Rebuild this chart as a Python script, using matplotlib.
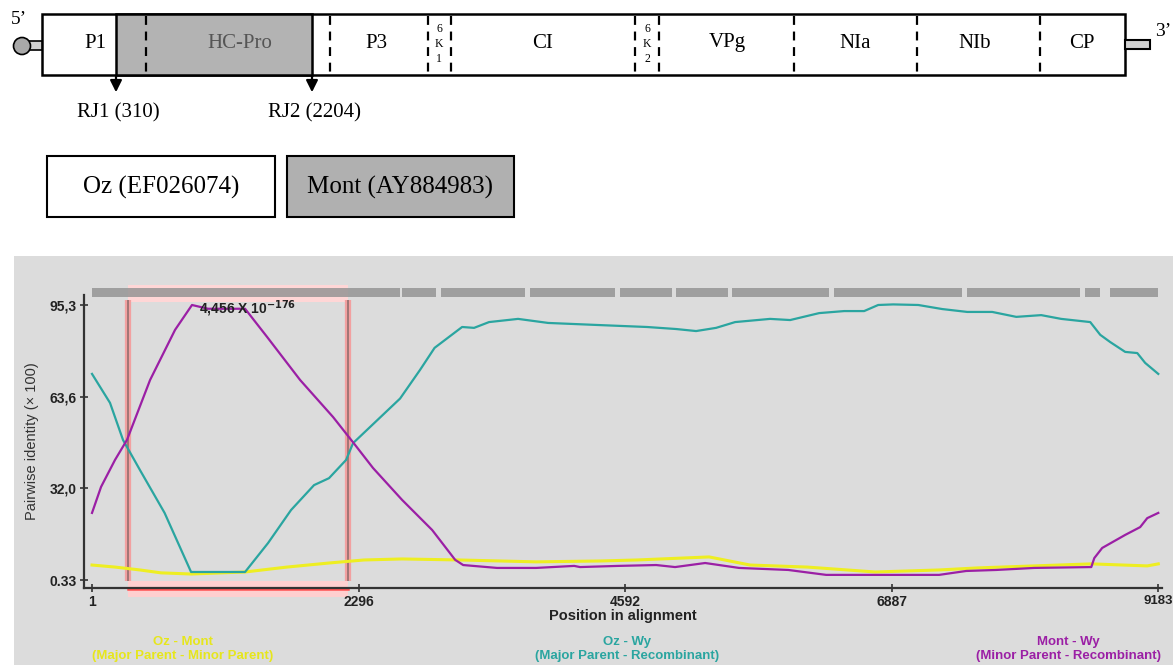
import matplotlib
matplotlib.use("Agg")
import matplotlib.pyplot as plt
from matplotlib.patches import Rectangle, Circle

# ---------------- data ----------------
# Oz - Mont (yellow)
oz_mont_x = [1, 199, 414, 595, 854, 1319, 1680, 2042, 2344, 2671, 3162, 3825, 4376,
             4695, 5315, 5668, 6159, 6745, 7296, 7624, 8115, 8606, 9088, 9183]
oz_mont_y = [5.5, 4.8, 3.8, 2.8, 2.4, 3.1, 4.8, 6.2, 7.25, 7.6, 7.25, 6.6, 6.9,
             7.25, 8.3, 5.5, 4.8, 3.1, 3.8, 4.5, 5.2, 5.9, 5.2, 5.9]
# Oz - Wy (teal)
oz_wy_x = [1, 156, 268, 414, 626, 854, 1319, 1517, 1715, 1913, 2042, 2189, 2249, 2654,
           2826, 2951, 3076, 3188, 3291, 3420, 3670, 3929, 4350, 4781, 5031, 5203,
           5375, 5539, 5840, 6013, 6263, 6478, 6650, 6771, 6900, 7116, 7322, 7538,
           7753, 7960, 8175, 8347, 8597, 8683, 8769, 8898, 9002, 9070, 9183]
oz_wy_y = [71.5, 61.5, 48.7, 38.3, 23.5, 3.1, 3.1, 13.1, 24.5, 33.1, 35.5, 41.8, 47.6,
           63.0, 72.9, 80.5, 84.3, 87.7, 87.4, 89.4, 90.5, 89.1, 88.4, 87.7, 87.0,
           86.3, 87.4, 89.4, 90.5, 90.1, 92.5, 93.2, 93.2, 95.3, 95.5, 95.3, 93.9,
           92.9, 92.9, 91.2, 91.8, 90.5, 89.4, 85.0, 82.5, 79.1, 78.7, 75.3, 71.5]
# Mont - Wy (purple)
mont_wy_x = [1, 79, 199, 302, 501, 716, 862, 1000, 1319, 1508, 1793, 2077, 2266, 2421,
             2671, 2930, 3128, 3197, 3489, 3825, 4153, 4204, 4531, 4859, 5022, 5281,
             5573, 5996, 6323, 6745, 7296, 7529, 7788, 8115, 8606, 8632, 8700, 8898,
             9027, 9088, 9183]
mont_wy_y = [23.5, 32.5, 41.8, 48.7, 69.4, 86.7, 95.3, 94.0, 94.0, 84.3, 69.4, 56.6,
             47.0, 39.0, 28.0, 17.6, 7.3, 5.5, 4.5, 4.5, 5.2, 4.8, 5.2, 5.5, 4.8, 6.2,
             4.5, 3.8, 2.1, 2.1, 2.1, 3.45, 3.8, 4.5, 4.8, 7.9, 11.4, 15.9, 18.6,
             21.7, 23.5]

x_ticks = [1, 2296, 4592, 6887, 9183]
y_ticks = [0.33, 32.0, 63.6, 95.3]
y_tick_labels = ["0.33", "32,0", "63,6", "95,3"]

breakpoints = [310, 2204]
pvalue_text = r"4,456 X 10$^{\mathbf{-176}}$"

# informative-site bar segments (alignment positions)
site_segments = [(1, 302), (302, 2204), (2204, 2654), (2671, 2964), (3007, 3732),
                 (3775, 4505), (4548, 4996), (5031, 5479), (5513, 6349), (6392, 7494),
                 (7537, 8511), (8554, 8683), (8769, 9183)]

gene_names = ["P1", "HC-Pro", "P3", "6\nK\n1", "CI", "6\nK\n2", "VPg", "NIa", "NIb", "CP"]

# ---------------- figure ----------------
W, H = 1173, 665
fig = plt.figure(figsize=(W / 100, H / 100), dpi=100)
fig.patch.set_facecolor("white")

bg = fig.add_axes([0, 0, 1, 1])
bg.set_xlim(0, W)
bg.set_ylim(H, 0)
bg.axis("off")

# grey panel
bg.add_patch(Rectangle((14, 256), W - 14, H - 256, facecolor="#dcdcdc", edgecolor="none"))

serif = ["Liberation Serif", "DejaVu Serif"]

# genome map
bar_l, bar_r, bar_t, bar_b = 42, 1125, 14, 75
bg.add_patch(Rectangle((bar_l, bar_t), bar_r - bar_l, bar_b - bar_t, facecolor="white",
                       edgecolor="black", lw=1.8, zorder=2))
bg.add_patch(Rectangle((116, bar_t), 312 - 116, bar_b - bar_t, facecolor="#b3b3b3",
                       edgecolor="black", lw=1.8, zorder=3))
for xd in [146, 330, 428, 451, 635, 659, 794, 917, 1040]:
    bg.plot([xd, xd], [bar_t + 2, bar_b - 2], color="black", lw=1.6,
            linestyle=(0, (4, 3)), zorder=4)
label_x = [95, 240, 376, 439, 543, 647, 727, 855, 975, 1082]
for name, lx in zip(gene_names, label_x):
    if "\n" in name:
        for k, ch in enumerate(name.split("\n")):
            bg.text(lx, 29 + k * 15, ch, ha="center", va="center", fontsize=8.5,
                    family=serif, zorder=5)
    else:
        col = "#555555" if name == "HC-Pro" else "black"
        bg.text(lx, 43, name, ha="center", va="center", fontsize=15, family=serif,
                color=col, zorder=5)

# 5' and 3' ends
bg.add_patch(Rectangle((28, 41), 14, 9, facecolor="#d0d0d0", edgecolor="black", lw=1.2, zorder=2))
bg.add_patch(Circle((22, 46), 8.5, facecolor="#a8a8a8", edgecolor="black", lw=1.2, zorder=3))
bg.add_patch(Rectangle((1125, 40), 25, 9, facecolor="#d0d0d0", edgecolor="black", lw=1.5, zorder=2))
bg.text(19, 20, "5’", ha="center", va="center", fontsize=14, family=serif)
bg.text(1163, 31, "3’", ha="center", va="center", fontsize=14, family=serif)

# breakpoint arrows
for ax_x, lab, tx in [(116, "RJ1 (310)", 118), (312, "RJ2 (2204)", 314)]:
    bg.annotate("", xy=(ax_x, 95), xytext=(ax_x, 74),
                arrowprops=dict(arrowstyle="-|>,head_width=0.35,head_length=0.7",
                                color="black", lw=1.6))
    bg.text(tx, 113, lab, ha="center", va="center", fontsize=15, family=serif)

# parent boxes
bg.add_patch(Rectangle((47, 156), 228, 61, facecolor="white", edgecolor="black", lw=1.5))
bg.add_patch(Rectangle((287, 156), 227, 61, facecolor="#b0b0b0", edgecolor="black", lw=1.5))
bg.text(161, 187, "Oz (EF026074)", ha="center", va="center", fontsize=18, family=serif)
bg.text(400, 187, "Mont (AY884983)", ha="center", va="center", fontsize=18, family=serif)

# ---------------- plot axes ----------------
sans = ["Liberation Sans", "DejaVu Sans"]
ax = fig.add_axes([84 / W, 1 - 588 / H, (1162 - 84) / W, (588 - 295) / H])
ax.set_facecolor("none")
ax.set_xlim(-68, 9215)
ax.set_ylim(-2.43, 98.75)
for s in ["top", "right"]:
    ax.spines[s].set_visible(False)
for s in ["left", "bottom"]:
    ax.spines[s].set_color("#333333")
    ax.spines[s].set_linewidth(1.6)

# recombinant region decorations
r0, r1 = breakpoints
ax.add_patch(Rectangle((r0, -5.5), r1 - r0, 5.5, facecolor="#ffcfcf", edgecolor="none",
                       clip_on=False, zorder=1))
ax.plot([r0, r1], [-2.8, -2.8], color="#ff5050", lw=1.8, clip_on=False, zorder=2)
ax.add_patch(Rectangle((r0, 96.3), r1 - r0, 5.9, facecolor="#ffd6d6", edgecolor="none",
                       clip_on=False, zorder=1))
for (a, b) in site_segments:
    col = "#ff7878" if (a >= r0 and b <= r1) else "#959595"
    ax.add_patch(Rectangle((a, 98.1), b - a, 3.1, facecolor=col, edgecolor="none",
                           alpha=0.85, clip_on=False, zorder=2))
ax.vlines(breakpoints, 0, 97, color="#f2a0a0", lw=4.5, zorder=2)
ax.vlines(breakpoints, 0, 97, color="#8a6a6a", lw=1.1, zorder=3)

# curves
ax.plot(oz_mont_x, oz_mont_y, color="#eeee22", lw=2.2, zorder=4)
ax.plot(oz_wy_x, oz_wy_y, color="#2aa5a0", lw=1.6, zorder=5)
ax.plot(mont_wy_x, mont_wy_y, color="#9b1fa5", lw=1.6, zorder=5)

ax.text(923, 93.9, pvalue_text, ha="left", va="center", fontsize=10, fontweight="bold",
        family=sans, color="#222222", zorder=6)

ax.set_xticks(x_ticks)
ax.set_xticklabels([str(v) for v in x_ticks])
ax.set_yticks(y_ticks)
ax.set_yticklabels(y_tick_labels)
ax.tick_params(axis="both", direction="inout", length=6, width=1.2, color="#333333",
               labelsize=10, labelcolor="#222222", pad=2)
for lbl in ax.get_xticklabels() + ax.get_yticklabels():
    lbl.set_fontweight("bold")
    lbl.set_family(sans)
ax.get_xticklabels()[-1].set_fontsize(9.5)
ax.set_xlabel("Position in alignment", fontsize=10.5, fontweight="bold", family=sans,
              color="#222222", labelpad=0)
ax.set_ylabel("Pairwise identity (× 100)", fontsize=10.5, family=sans, color="#333333",
              labelpad=8)

# bottom legend texts
legend_kw = dict(ha="center", va="center", fontsize=9.5, fontweight="bold", family=sans,
                 linespacing=1.25)
bg.text(183, 649, "Oz - Mont\n(Major Parent - Minor Parent)", color="#e6e61c", **legend_kw)
bg.text(627, 649, "Oz - Wy\n(Major Parent - Recombinant)", color="#2aa5a0", **legend_kw)
bg.text(1068, 649, "Mont - Wy\n(Minor Parent - Recombinant)", color="#9b1fa5", **legend_kw)

fig.savefig("out.png", dpi=100, facecolor="white")
